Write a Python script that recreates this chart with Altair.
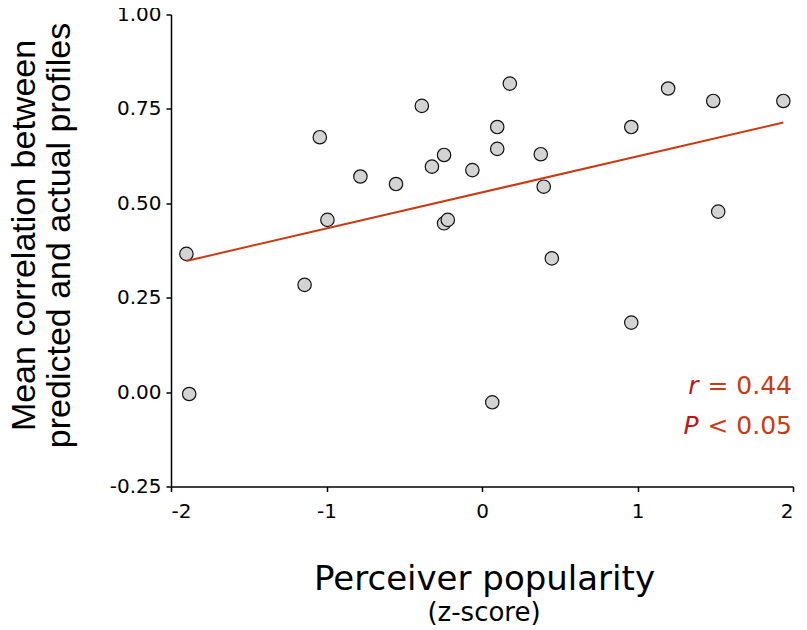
import altair as alt
import pandas as pd

# Perceiver popularity (z-score) and mean correlation
popularity = [-1.901, -1.883, -1.141, -1.043, -0.994, -0.782, -0.553, -0.387,
              -0.322, -0.244, -0.244, -0.220, -0.062, 0.066, 0.098, 0.098,
              0.179, 0.378, 0.397, 0.449, 0.960, 0.960, 1.197, 1.487, 1.519, 1.938]
correlation = [0.366, -0.005, 0.284, 0.675, 0.456, 0.571, 0.551, 0.758,
               0.597, 0.628, 0.447, 0.456, 0.588, -0.027, 0.702, 0.644,
               0.817, 0.630, 0.544, 0.354, 0.702, 0.184, 0.804, 0.771, 0.478, 0.771]

x_ticks = [-2, -1, 0, 1, 2]
y_ticks = [-0.25, 0.0, 0.25, 0.50, 0.75, 1.00]

x_title = "Perceiver popularity"
x_subtitle = "(z-score)"
y_title = ["Mean correlation between", "predicted and actual profiles"]
stat_symbols = ["r", "P"]
stat_rest = [" = 0.44", " < 0.05"]

RED = "#cc3a14"
RED_DARK = "#c0161a"
HFONT = "DejaVu Sans"
W, H = 622, 472

df = pd.DataFrame({"popularity": popularity, "correlation": correlation})

x_enc = alt.X(
    "popularity:Q",
    scale=alt.Scale(domain=[-2, 2], nice=False, zero=False),
    axis=alt.Axis(
        values=x_ticks, format="d",
        labelExpr="replace(datum.label, '\u2212', '-')",
        title=x_title, titleFont=HFONT, titleFontSize=34,
        titleFontWeight="normal", titleColor="black",
        titleBaseline="alphabetic", titleY=103, titleX=W / 2 + 2,
        titleAlign="center",
        labelPadding=10,
    ),
)
y_enc = alt.Y(
    "correlation:Q",
    scale=alt.Scale(domain=[-0.25, 1.0], nice=False, zero=False),
    axis=alt.Axis(
        values=y_ticks, format=".2f",
        labelExpr="replace(datum.label, '\u2212', '-')",
        title=y_title, titleFont="Liberation Sans", titleFontSize=34,
        titleFontWeight="normal", titleColor="black",
        titleAngle=270, titleAlign="center", titleBaseline="alphabetic",
        titleX=-137, titleY=220.5, titleLineHeight=35,
        labelPadding=5,
    ),
)

points = alt.Chart(df).mark_circle(
    size=180, color="#d3d3d3", stroke="#111111", strokeWidth=1.2, opacity=1
).encode(x=x_enc, y=y_enc)

fit = alt.Chart(df).transform_regression(
    "popularity", "correlation"
).mark_line(color=RED, strokeWidth=2).encode(
    x=alt.X("popularity:Q"), y=alt.Y("correlation:Q")
)


def text_layer(txt, x, y, size, color, align="center", style="normal"):
    return alt.Chart(pd.DataFrame({"t": [txt]})).mark_text(
        font=HFONT, fontSize=size, color=color, align=align,
        baseline="alphabetic", fontStyle=style,
    ).encode(x=alt.value(x), y=alt.value(y), text="t:N")


sub = text_layer(x_subtitle, W / 2 + 2, 606, 26, "black")
stat_layers = []
for i, (sym, rest) in enumerate(zip(stat_symbols, stat_rest)):
    yy = 379.5 + i * 39.5
    stat_layers.append(text_layer(rest, 621, yy, 25, RED, align="right"))
    stat_layers.append(text_layer(sym, 527.5, yy, 25, RED_DARK, align="right", style="italic"))

chart = alt.layer(points, fit, sub, *stat_layers).properties(
    width=W, height=H,
    autosize=alt.AutoSizeParams(type="none"),
    padding={"left": 163, "top": 6.5, "right": 6, "bottom": 141.5},
).configure_view(stroke=None).configure_axis(
    grid=False, domainColor="black", domainWidth=1.5, tickColor="black",
    tickWidth=1.5, tickSize=5, labelFont=HFONT, labelFontSize=20,
    labelColor="black",
)

chart.save("out.html", embed_options={"renderer": "svg", "actions": False})
